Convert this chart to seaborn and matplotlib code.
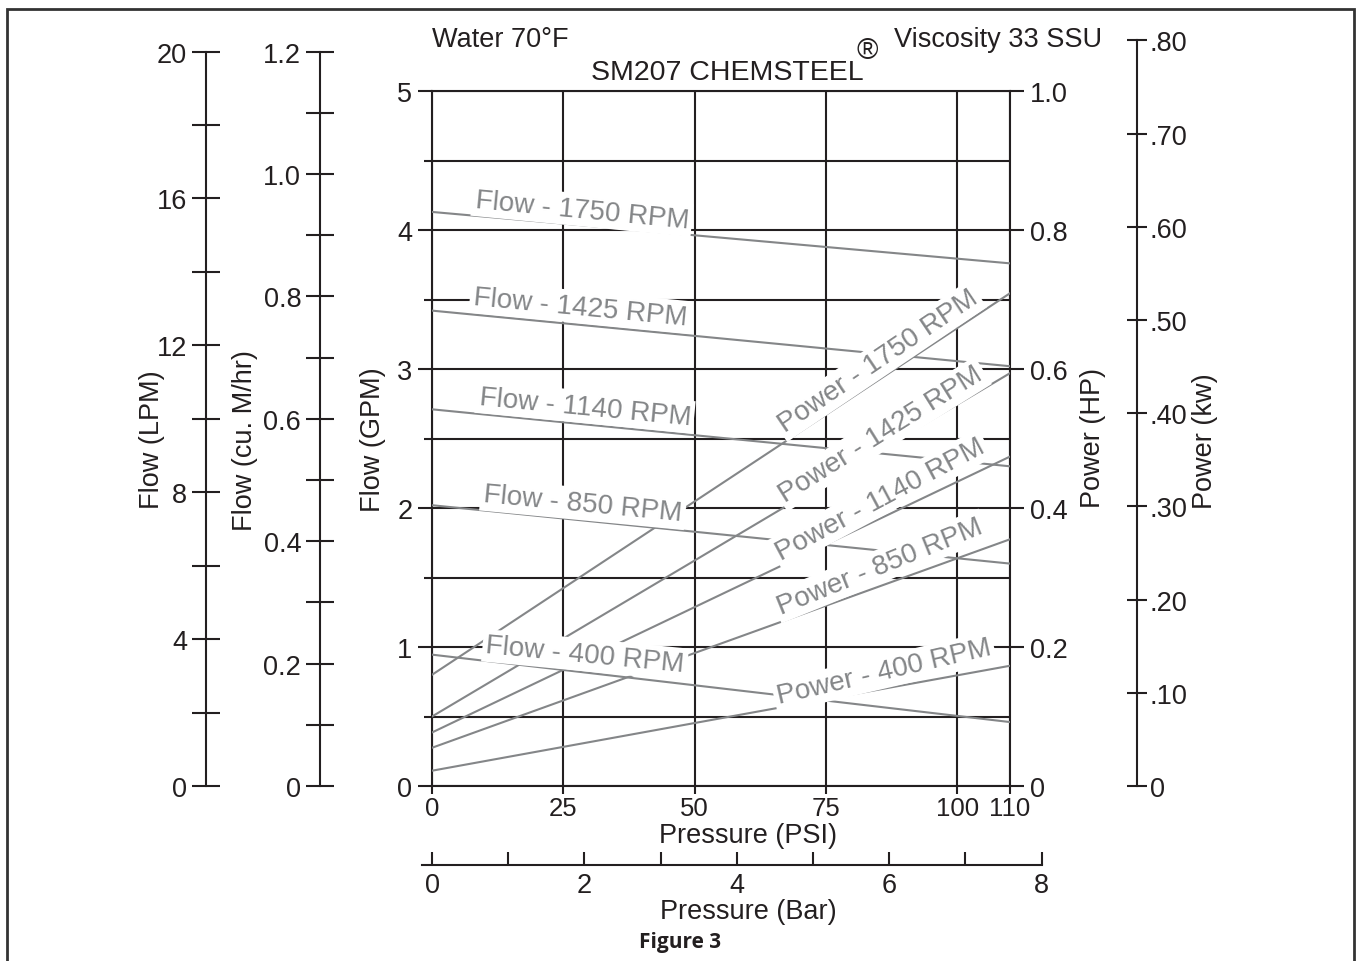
import matplotlib
matplotlib.use("Agg")
import matplotlib.pyplot as plt
import pandas as pd
import seaborn as sns
from matplotlib.ticker import MultipleLocator, FixedLocator, FuncFormatter
from matplotlib.patches import Rectangle

# ---------------- data ----------------
pressure_psi = [0, 110]

flow_1750_gpm = [4.13, 3.76]
flow_1425_gpm = [3.42, 3.02]
flow_1140_gpm = [2.71, 2.30]
flow_850_gpm = [2.02, 1.60]
flow_400_gpm = [0.945, 0.46]

power_1750_hp = [0.160, 0.709]
power_1425_hp = [0.100, 0.594]
power_1140_hp = [0.077, 0.474]
power_850_hp = [0.055, 0.355]
power_400_hp = [0.022, 0.173]

rpm_names = ["1750", "1425", "1140", "850", "400"]
psi_ticks = [0, 25, 50, 75, 100, 110]
gpm_ticks = [0, 1, 2, 3, 4, 5]
hp_ticks = [0, 0.2, 0.4, 0.6, 0.8, 1.0]
hp_tick_labels = ["0", "0.2", "0.4", "0.6", "0.8", "1.0"]
kw_ticks = [0, 0.1, 0.2, 0.3, 0.4, 0.5, 0.6, 0.7, 0.8]
kw_tick_labels = ["0", ".10", ".20", ".30", ".40", ".50", ".60", ".70", ".80"]

# unit conversions
LPM_PER_GPM = 3.78541
M3H_PER_GPM = 0.227125
KW_PER_HP = 0.745700
PSI_PER_BAR = 14.5038

flow_df = pd.concat([
    pd.DataFrame({"psi": pressure_psi, "value": v, "rpm": r})
    for r, v in zip(rpm_names, [flow_1750_gpm, flow_1425_gpm, flow_1140_gpm,
                                flow_850_gpm, flow_400_gpm])
])
power_df = pd.concat([
    pd.DataFrame({"psi": pressure_psi, "value": v, "rpm": r})
    for r, v in zip(rpm_names, [power_1750_hp, power_1425_hp, power_1140_hp,
                                power_850_hp, power_400_hp])
])

# ---------------- style ----------------
sns.set_theme(style="white")
plt.rcParams["font.family"] = ["Liberation Sans", "DejaVu Sans"]

INK = "#231f20"
GRAY = "#848688"
LW = 1.5
TICK_FS = 19.5
LAB_FS = 19.5
CURVE_FS = 20

W, H = 1360, 962
fig = plt.figure(figsize=(W / 100, H / 100), dpi=100)
fig.patch.set_facecolor("white")


def fx(x):
    return x / W


def fy(y):
    return 1 - y / H


PX2PT = 72 / 100.0

# main axes: pressure (psi) vs flow (gpm)
X0, X1, Y0, Y1 = 432, 1010, 787, 92
ax = fig.add_axes([fx(X0), fy(Y0), fx(X1) - fx(X0), fy(Y1) - fy(Y0)])
ax.set_xlim(0, 110)
ax.set_ylim(0, 5)
ax.set_facecolor("none")

for r in rpm_names:
    sns.lineplot(data=flow_df[flow_df.rpm == r], x="psi", y="value", ax=ax,
                 color=GRAY, lw=LW, legend=False, zorder=3)

ax.xaxis.set_major_locator(FixedLocator(psi_ticks))
ax.yaxis.set_major_locator(FixedLocator(gpm_ticks))
ax.yaxis.set_minor_locator(MultipleLocator(0.5))
ax.grid(True, which="both", axis="y", color=INK, lw=LW)
ax.grid(True, which="major", axis="x", color=INK, lw=LW)
ax.set_axisbelow(True)
for s in ax.spines.values():
    s.set_visible(True)
    s.set_color(INK)
    s.set_linewidth(LW)
ax.tick_params(axis="y", which="major", left=True, right=True, direction="out",
               length=14 * PX2PT, width=LW, color=INK, labelsize=TICK_FS,
               pad=4, labelcolor=INK)
ax.tick_params(axis="y", which="minor", left=True, right=True, direction="out",
               length=8 * PX2PT, width=LW, color=INK)
ax.tick_params(axis="x", which="major", bottom=True, direction="out",
               length=8 * PX2PT, width=LW, color=INK, pad=1.5,
               labelsize=18.5, labelcolor=INK)
ax.set_xticklabels([str(t) for t in psi_ticks])
ax.set_yticklabels([str(t) for t in gpm_ticks])
ax.set_xlabel("")
ax.set_ylabel("")

# twin axis for power (hp)
ax2 = ax.twinx()
ax2.set_ylim(0, 1.0)
for r in rpm_names:
    sns.lineplot(data=power_df[power_df.rpm == r], x="psi", y="value", ax=ax2,
                 color=GRAY, lw=LW, legend=False, zorder=3)
ax2.set_xlim(0, 110)
ax2.grid(False)
for s in ax2.spines.values():
    s.set_visible(False)
ax2.yaxis.set_major_locator(FixedLocator(hp_ticks))
ax2.set_yticklabels(hp_tick_labels)
ax2.tick_params(axis="y", right=True, length=14 * PX2PT, width=LW, color=INK,
                labelsize=TICK_FS, pad=4, labelcolor=INK)
ax2.set_ylabel("")
ax2.set_xlabel("")

# ---------------- auxiliary scales ----------------
def side_axis(xpix, ytop_pix, lim, side):
    a = fig.add_axes([fx(xpix) - (0.00005 if side == "right" else 0), fy(Y0),
                      0.00005, fy(ytop_pix) - fy(Y0)])
    a.set_ylim(*lim)
    a.patch.set_visible(False)
    a.grid(False)
    a.set_xticks([])
    for k, s in a.spines.items():
        s.set_visible(k == side)
        s.set_color(INK)
        s.set_linewidth(LW)
    if side == "right":
        a.yaxis.tick_right()
    return a


px_per_gpm = (Y0 - Y1) / 5

# Flow LPM (0-20 LPM)
lpm_top_pix = Y0 - (20 / LPM_PER_GPM) * px_per_gpm
axl = side_axis(206, lpm_top_pix, (0, 20), "left")
axl.yaxis.set_major_locator(MultipleLocator(2))
axl.yaxis.set_major_formatter(FuncFormatter(
    lambda v, p: f"{int(round(v))}" if round(v) % 4 == 0 else ""))
axl.tick_params(axis="y", direction="inout", length=28 * PX2PT, width=LW,
                color=INK, labelsize=TICK_FS, pad=3.5, labelcolor=INK, left=True)

# Flow cu. M/hr (0-1.2)
m3h_top_pix = Y0 - (1.2 / M3H_PER_GPM) * px_per_gpm
axm = side_axis(320, m3h_top_pix, (0, 1.2), "left")
axm.yaxis.set_major_locator(MultipleLocator(0.1))
axm.yaxis.set_major_formatter(FuncFormatter(
    lambda v, p: ("0" if abs(v) < 1e-9 else f"{v:.1f}")
    if abs(round(v * 10) % 2) == 0 else ""))
axm.tick_params(axis="y", direction="inout", length=28 * PX2PT, width=LW,
                color=INK, labelsize=TICK_FS, pad=3.5, labelcolor=INK, left=True)

# Power kW (0-0.8)
kw_top_pix = Y0 - (0.8 / KW_PER_HP) * (Y0 - Y1)
axk = side_axis(1137, kw_top_pix, (0, 0.8), "right")
axk.yaxis.set_major_locator(FixedLocator(kw_ticks))
axk.set_yticklabels(kw_tick_labels)
axk.tick_params(axis="y", direction="inout", length=20 * PX2PT, width=LW,
                color=INK, labelsize=TICK_FS, pad=2, labelcolor=INK, right=True,
                left=False)

# Pressure bar scale
px_per_psi = (X1 - X0) / 110
px_per_bar = px_per_psi * PSI_PER_BAR
BX0, BX1, BY = 422, 1042, 866
axb = fig.add_axes([fx(BX0), fy(BY), fx(BX1) - fx(BX0), 0.00005])
axb.set_xlim((BX0 - X0) / px_per_bar, (BX1 - X0) / px_per_bar)
axb.patch.set_visible(False)
axb.grid(False)
axb.set_yticks([])
for k, s in axb.spines.items():
    s.set_visible(k == "bottom")
    s.set_color(INK)
    s.set_linewidth(LW)
axb.xaxis.set_major_locator(MultipleLocator(1))
axb.xaxis.set_major_formatter(FuncFormatter(
    lambda v, p: f"{int(round(v))}" if round(v) % 2 == 0 else ""))
axb.tick_params(axis="x", direction="in", length=13 * PX2PT, width=LW,
                color=INK, labelsize=TICK_FS, pad=5, labelcolor=INK, bottom=True)

# ---------------- texts ----------------
def ftext(x, y, s, **kw):
    return fig.text(fx(x), fy(y), s, **kw)


ftext(152, 440, "Flow (LPM)", rotation=90, ha="center", va="center",
      fontsize=LAB_FS, color=INK)
ftext(245, 441, "Flow (cu. M/hr)", rotation=90, ha="center", va="center",
      fontsize=LAB_FS, color=INK)
ftext(373, 440, "Flow (GPM)", rotation=90, ha="center", va="center",
      fontsize=LAB_FS, color=INK)
ftext(1093, 438, "Power (HP)", rotation=90, ha="center", va="center",
      fontsize=LAB_FS, color=INK)
ftext(1205, 441, "Power (kw)", rotation=90, ha="center", va="center",
      fontsize=LAB_FS, color=INK)

ftext(748, 836, "Pressure (PSI)", ha="center", va="center", fontsize=LAB_FS,
      color=INK)
ftext(748, 912, "Pressure (Bar)", ha="center", va="center", fontsize=LAB_FS,
      color=INK)

ftext(432, 40, "Water 70°F", ha="left", va="center", fontsize=LAB_FS, color=INK)
ftext(1102, 40, "Viscosity 33 SSU", ha="right", va="center", fontsize=LAB_FS,
      color=INK)
ftext(727, 73, "SM207 CHEMSTEEL", ha="center", va="center", fontsize=20.5,
      color=INK)
ftext(867, 51, "®", ha="center", va="center", fontsize=21, color=INK)

ftext(680, 943, "Figure 3", ha="center", va="center", fontsize=15,
      fontweight="bold", family=["Open Sans", "DejaVu Sans"], color=INK)

BOX = dict(facecolor="white", edgecolor="none", boxstyle="square,pad=0.12")
curve_labels = [
    (582, 211, -5.5, "Flow - 1750 RPM"),
    (580, 308, -5.5, "Flow - 1425 RPM"),
    (585, 408, -5.5, "Flow - 1140 RPM"),
    (583, 505, -5.5, "Flow - 850 RPM"),
    (585, 656, -5.5, "Flow - 400 RPM"),
    (878, 362, 34, "Power - 1750 RPM"),
    (881, 435, 32, "Power - 1425 RPM"),
    (880, 500, 28, "Power - 1140 RPM"),
    (880, 567, 22, "Power - 850 RPM"),
    (884, 673, 13, "Power - 400 RPM"),
]
for x, y, rot, s in curve_labels:
    ftext(x, y, s, rotation=rot, rotation_mode="anchor", ha="center",
          va="center", fontsize=CURVE_FS, color=GRAY, bbox=BOX, zorder=20)

# outer frame (open at bottom)
fig.add_artist(Rectangle((fx(6.5), fy(1000)), fx(1354) - fx(6.5),
                         fy(10) - fy(1000), transform=fig.transFigure,
                         fill=False, edgecolor="#333333", lw=2.0, zorder=30))

fig.savefig("out.png", dpi=100, facecolor="white")
